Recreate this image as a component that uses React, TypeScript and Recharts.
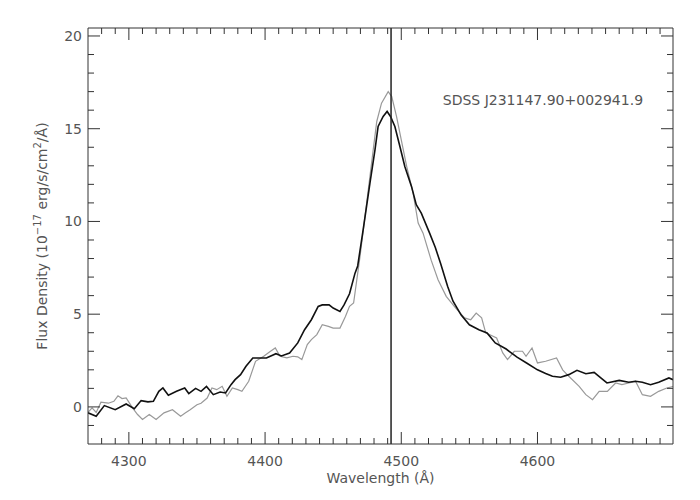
import { LineChart, Line, XAxis, YAxis, ReferenceLine, ReferenceDot } from 'recharts'

const AXIS = '#333'
const TEXT = '#555'
const FONT = 'DejaVu Sans'

// black spectrum
const blackWave = [4270, 4276, 4282, 4290, 4298, 4304, 4309, 4314, 4318, 4322, 4325, 4329, 4335, 4341, 4344, 4349, 4353, 4357, 4362, 4367, 4371, 4375, 4378, 4382, 4386, 4391, 4396, 4401, 4408, 4412, 4418, 4424, 4429, 4434, 4439, 4442, 4447, 4450, 4455, 4458, 4462, 4466, 4468, 4472, 4477, 4480.7, 4483, 4486.7, 4489.6, 4492.1, 4495.3, 4499, 4502.6, 4507.5, 4511, 4514.7, 4520.8, 4525, 4529, 4534, 4538, 4544, 4550, 4557, 4563, 4569, 4577, 4585, 4592, 4600, 4606, 4611, 4617, 4623, 4629, 4635.5, 4641.6, 4646.5, 4651, 4660, 4667, 4672, 4677, 4683, 4689, 4696.5, 4699.5]
const blackFlux = [-0.32, -0.5, 0.07, -0.15, 0.16, -0.1, 0.34, 0.27, 0.3, 0.84, 1.02, 0.63, 0.84, 1.02, 0.72, 1.0, 0.84, 1.1, 0.66, 0.8, 0.75, 1.2, 1.47, 1.74, 2.19, 2.64, 2.64, 2.64, 2.87, 2.75, 2.9, 3.45, 4.16, 4.7, 5.42, 5.5, 5.5, 5.33, 5.15, 5.5, 6.1, 7.2, 7.6, 9.55, 12.07, 13.86, 15.12, 15.66, 15.93, 15.66, 15.12, 14.04, 12.96, 11.89, 10.9, 10.45, 9.37, 8.6, 7.7, 6.5, 5.7, 4.95, 4.43, 4.16, 3.99, 3.45, 3.12, 2.68, 2.37, 2.0, 1.8, 1.65, 1.6, 1.74, 1.97, 1.79, 1.86, 1.56, 1.29, 1.43, 1.33, 1.38, 1.33, 1.2, 1.33, 1.56, 1.47]

// grey spectrum
const grayWave = [4270, 4273, 4276, 4279.5, 4285, 4289, 4292, 4295, 4298, 4302.7, 4306.4, 4310, 4315, 4320, 4325.8, 4332, 4338, 4341.6, 4345, 4350, 4353, 4357.5, 4361, 4364.5, 4368.5, 4372, 4376, 4380, 4383, 4388, 4393, 4399, 4404, 4407.5, 4411, 4416, 4420.5, 4424, 4427, 4431, 4434, 4438, 4442, 4446.5, 4450, 4455, 4459, 4462, 4465, 4469.7, 4474.6, 4479.4, 4482, 4485.5, 4490.4, 4493, 4496.5, 4500, 4504, 4508.7, 4512.4, 4516, 4522, 4527, 4533, 4540, 4546.5, 4551, 4555, 4559, 4562, 4570, 4574.5, 4578, 4583, 4589, 4591.6, 4596, 4600, 4606, 4614, 4618.5, 4623, 4630.6, 4635.5, 4640.4, 4645.3, 4651.3, 4657.4, 4662, 4667, 4672, 4677, 4683, 4689, 4695, 4699.5]
const grayFlux = [-0.3, -0.05, -0.3, 0.25, 0.2, 0.3, 0.6, 0.45, 0.48, -0.05, -0.41, -0.68, -0.41, -0.68, -0.32, -0.15, -0.5, -0.32, -0.15, 0.12, 0.2, 0.48, 1.02, 0.93, 1.11, 0.57, 1.02, 0.93, 0.84, 1.38, 2.46, 2.73, 3.0, 3.18, 2.73, 2.64, 2.73, 2.7, 2.55, 3.36, 3.63, 3.9, 4.43, 4.34, 4.25, 4.25, 4.88, 5.42, 5.6, 8.1, 11.0, 13.86, 15.39, 16.38, 17.0, 16.73, 15.66, 14.4, 12.96, 11.53, 9.91, 9.37, 7.9, 6.86, 5.96, 5.33, 4.8, 4.7, 5.06, 4.8, 3.99, 3.72, 2.91, 2.55, 3.0, 3.0, 2.73, 3.18, 2.37, 2.46, 2.64, 2.0, 1.65, 1.11, 0.66, 0.39, 0.84, 0.84, 1.29, 1.2, 1.29, 1.38, 0.66, 0.57, 0.84, 1.02, 1.1]

const xTicks = [4280, 4290, 4300, 4310, 4320, 4330, 4340, 4350, 4360, 4370, 4380, 4390, 4400, 4410, 4420, 4430, 4440, 4450, 4460, 4470, 4480, 4490, 4500, 4510, 4520, 4530, 4540, 4550, 4560, 4570, 4580, 4590, 4600, 4610, 4620, 4630, 4640, 4650, 4660, 4670, 4680, 4690]
const yTicks = [-1, 0, 1, 2, 3, 4, 5, 6, 7, 8, 9, 10, 11, 12, 13, 14, 15, 16, 17, 18, 19, 20]
const xMajor = [4300, 4400, 4500, 4600]
const yMajor = [0, 5, 10, 15, 20]

const lineCenter = 4492.5
const objectName = 'SDSS J231147.90+002941.9'

const blackData = blackWave.map((w, i) => ({ w, f: blackFlux[i] }))
const grayData = grayWave.map((w, i) => ({ w, f: grayFlux[i] }))

const XTick = (props: any) => {
  const { x, y, payload, top } = props
  const major = xMajor.includes(payload.value)
  const len = major ? 12 : 6
  return (
    <g>
      <line x1={x} x2={x} y1={y} y2={top ? y + len : y - len} stroke={AXIS} />
      {major && !top && (
        <text x={x} y={y + 22} textAnchor="middle" fill={TEXT} fontSize={14} fontFamily={FONT}>
          {payload.value}
        </text>
      )}
    </g>
  )
}

const YTick = (props: any) => {
  const { x, y, payload, right } = props
  const major = yMajor.includes(payload.value)
  const len = major ? 12 : 6
  return (
    <g>
      <line x1={x} x2={right ? x - len : x + len} y1={y} y2={y} stroke={AXIS} />
      {major && !right && (
        <text x={x - 6} y={y + 5} textAnchor="end" fill={TEXT} fontSize={14} fontFamily={FONT}>
          {payload.value}
        </text>
      )}
    </g>
  )
}

const YLabel = (props: any) => {
  const { viewBox } = props
  const cx = viewBox.x + 47
  const cy = viewBox.y + viewBox.height / 2
  return (
    <text x={cx} y={cy} transform={`rotate(-90 ${cx} ${cy})`} textAnchor="middle" fill={TEXT} fontSize={14} fontFamily={FONT}>
      <tspan>Flux Density (10</tspan>
      <tspan dy={-6} fontSize={10}>−17</tspan>
      <tspan dy={6}> erg/s/cm</tspan>
      <tspan dy={-6} fontSize={10}>2</tspan>
      <tspan dy={6}>/Å)</tspan>
    </text>
  )
}

const XLabel = (props: any) => {
  const { viewBox } = props
  return (
    <text x={viewBox.x + viewBox.width / 2} y={viewBox.y + 39} textAnchor="middle" fill={TEXT} fontSize={14} fontFamily={FONT}>
      Wavelength (Å)
    </text>
  )
}

const App = () => {
  return (
    <div style={{ position: 'absolute', left: 0, top: 0, background: '#fff' }}>
      <LineChart width={700} height={500} margin={{ top: 27, right: 26, bottom: 0, left: 0 }}>
        <XAxis xAxisId="b" dataKey="w" type="number" domain={[4270, 4699.5]} allowDataOverflow
          ticks={xTicks} interval={0} height={56} tickSize={0} tickMargin={0} tickLine={false}
          axisLine={{ stroke: AXIS }} tick={(p: any) => <XTick {...p} />} label={<XLabel />} />
        <XAxis xAxisId="t" orientation="top" dataKey="w" type="number" domain={[4270, 4699.5]} allowDataOverflow
          ticks={xTicks} interval={0} height={1} tickSize={0} tickMargin={0} tickLine={false}
          axisLine={{ stroke: AXIS }} tick={(p: any) => <XTick {...p} top />} />
        <YAxis yAxisId="l" type="number" domain={[-2, 20.43]} allowDataOverflow
          ticks={yTicks} interval={0} width={88} tickSize={0} tickMargin={0} tickLine={false}
          axisLine={{ stroke: AXIS }} tick={(p: any) => <YTick {...p} />} label={<YLabel />} />
        <YAxis yAxisId="r" orientation="right" type="number" domain={[-2, 20.43]} allowDataOverflow
          ticks={yTicks} interval={0} width={1} tickSize={0} tickMargin={0} tickLine={false}
          axisLine={{ stroke: AXIS }} tick={(p: any) => <YTick {...p} right />} />
        <Line xAxisId="b" yAxisId="l" data={grayData} dataKey="f" type="linear" stroke="#999"
          strokeWidth={1.2} dot={false} isAnimationActive={false} />
        <Line xAxisId="t" yAxisId="r" data={blackData} dataKey="f" type="linear" stroke="#111"
          strokeWidth={1.6} dot={false} isAnimationActive={false} />
        <ReferenceLine xAxisId="b" yAxisId="l" x={lineCenter} stroke="#222" strokeWidth={1.5} />
        <ReferenceDot xAxisId="b" yAxisId="l" x={4604} y={16.56} r={0} stroke="none" fill="none"
          label={{ value: objectName, position: 'center', fill: TEXT, fontSize: 14, fontFamily: FONT }} />
      </LineChart>
    </div>
  )
}

export default App
